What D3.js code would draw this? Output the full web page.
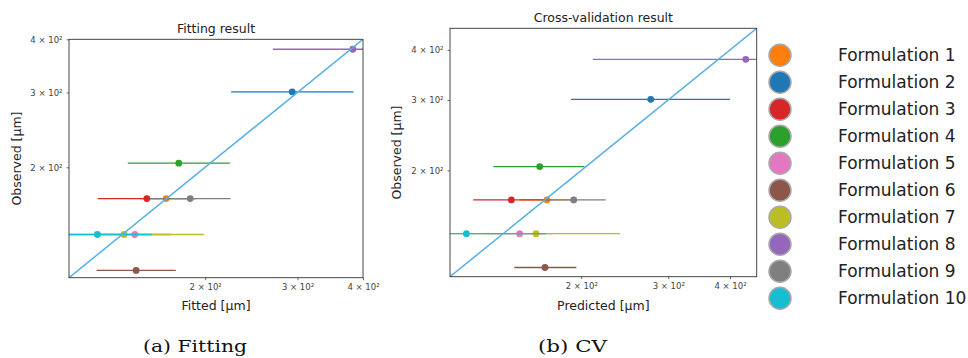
<!DOCTYPE html>
<html>
<head>
<meta charset="utf-8">
<script src="https://cdn.jsdelivr.net/npm/d3@7"></script>
<style>
  body { margin: 0; background: #fff; }
  svg { display: block; }
  .ttl { font-family: "DejaVu Sans", sans-serif; fill: #222; }
  .tick text { font-family: "DejaVu Sans", sans-serif; fill: #444; }
  .cap { font-family: "DejaVu Serif", "Liberation Serif", serif; fill: #111; }
</style>
</head>
<body>
<svg id="chart" width="968" height="358"></svg>
<script>
// formulations, in plotting order
const names = ['Formulation 1', 'Formulation 2', 'Formulation 3', 'Formulation 4', 'Formulation 5',
    'Formulation 6', 'Formulation 7', 'Formulation 8', 'Formulation 9', 'Formulation 10'];
const colors = ['#ff7f0e', '#1f77b4', '#d62728', '#2ca02c', '#e377c2',
    '#8c564b', '#bcbd22', '#9467bd', '#7f7f7f', '#17becf'];

// observed size [um], shared by both panels
const observed = [168.8, 301, 168.8, 204.5, 139, 114.4, 139, 379, 168.8, 139];

// fitting panel: fitted value and error bar ends
const fitted = [168.5, 293.1, 154.8, 178.1, 146.8, 147.7, 140.1, 382.5, 187.3, 124.6];
const fittedLow = [150, 224.2, 124.8, 142.4, 125, 124.2, 98.6, 269.2, 156.9, 98];
const fittedHigh = [190, 383.7, 192, 222.9, 172, 175.8, 199.1, 540, 223.6, 158.2];

// cross-validation panel
const predicted = [170.5, 276.5, 144.4, 164.8, 150.1, 168.9, 162, 430.5, 193.1, 117.1];
const predictedLow = [150, 190.7, 120.9, 132.8, 128, 146.4, 109.5, 211, 166.3, 80.9];
const predictedHigh = [195, 400, 172.4, 203, 175, 195.5, 239.6, 878, 224.2, 169.5];

const tickValues = [200, 300, 400];
const supTwo = '\u00b2';
const tickLabel = d => (d / 100) + ' \u00d7 10' + supTwo;

const svg = d3.select('#chart');

function panel(opts) {
    const x = d3.scaleLog().domain(opts.domain).range([opts.left, opts.right]);
    const y = d3.scaleLog().domain(opts.domain).range([opts.bottom, opts.top]);
    const g = svg.append('g');

    const clipId = 'clip-' + opts.id;
    g.append('clipPath').attr('id', clipId)
        .append('rect')
        .attr('x', opts.left).attr('y', opts.top)
        .attr('width', opts.right - opts.left)
        .attr('height', opts.bottom - opts.top);

    const plot = g.append('g').attr('clip-path', `url(#${clipId})`);

    // error bars then dots, one formulation at a time like matplotlib
    names.forEach((n, i) => {
        plot.append('line')
            .attr('x1', x(opts.low[i])).attr('x2', x(opts.high[i]))
            .attr('y1', y(observed[i])).attr('y2', y(observed[i]))
            .attr('stroke', colors[i]).attr('stroke-width', 1.3);
        plot.append('circle')
            .attr('cx', x(opts.value[i])).attr('cy', y(observed[i]))
            .attr('r', 3.4).attr('fill', colors[i]);
    });

    // identity line
    plot.append('line')
        .attr('x1', x(opts.domain[0])).attr('y1', y(opts.domain[0]))
        .attr('x2', x(opts.domain[1])).attr('y2', y(opts.domain[1]))
        .attr('stroke', '#56b0e4').attr('stroke-width', 1.5);

    // x axis
    const xa = g.append('g')
        .attr('transform', `translate(0,${opts.bottom})`)
        .call(d3.axisBottom(x).tickValues(tickValues).tickFormat(tickLabel).tickSize(2.5).tickPadding(4));
    // y axis
    const ya = g.append('g')
        .attr('transform', `translate(${opts.left},0)`)
        .call(d3.axisLeft(y).tickValues(tickValues).tickFormat(tickLabel).tickSize(2.5).tickPadding(4));
    [xa, ya].forEach(a => {
        a.select('.domain').remove();
        a.selectAll('.tick line').attr('stroke', '#444').attr('stroke-width', 0.8);
        a.selectAll('.tick text').attr('font-size', 8.5);
    });

    // frame
    g.append('rect')
        .attr('x', opts.left).attr('y', opts.top)
        .attr('width', opts.right - opts.left)
        .attr('height', opts.bottom - opts.top)
        .attr('fill', 'none').attr('stroke', '#333').attr('stroke-width', 0.9);

    const cx = (opts.left + opts.right) / 2;
    const cy = (opts.top + opts.bottom) / 2;
    g.append('text').attr('class', 'ttl')
        .attr('x', cx).attr('y', opts.top - 6)
        .attr('text-anchor', 'middle').attr('font-size', 12.5)
        .text(opts.title);
    g.append('text').attr('class', 'ttl')
        .attr('x', cx).attr('y', 310)
        .attr('text-anchor', 'middle').attr('font-size', 12.5)
        .text(opts.xlabel);
    g.append('text').attr('class', 'ttl')
        .attr('transform', `translate(${opts.ylabelX},${cy}) rotate(-90)`)
        .attr('text-anchor', 'middle').attr('font-size', 12.5)
        .text('Observed [\u03bcm]');
    g.append('text').attr('class', 'cap')
        .attr('x', opts.capX).attr('y', 352)
        .attr('text-anchor', 'middle').attr('font-size', 17)
        .attr('textLength', opts.capW).attr('lengthAdjust', 'spacingAndGlyphs')
        .text(opts.caption);
}

panel({
    id: 'fit', domain: [110, 400],
    left: 69, right: 363, top: 39.3, bottom: 277.7,
    value: fitted, low: fittedLow, high: fittedHigh,
    title: 'Fitting result', xlabel: 'Fitted [\u03bcm]', ylabelX: 21,
    caption: '(a) Fitting', capX: 195, capW: 104
});

panel({
    id: 'cv', domain: [108.5, 453],
    left: 450, right: 756.7, top: 28.3, bottom: 276.7,
    value: predicted, low: predictedLow, high: predictedHigh,
    title: 'Cross-validation result', xlabel: 'Predicted [\u03bcm]', ylabelX: 401,
    caption: '(b) CV', capX: 572.5, capW: 69
});

// legend
const legend = svg.append('g');
const ly = d3.scalePoint().domain(names).range([55.3, 298.3]);
legend.selectAll('circle').data(names).join('circle')
    .attr('cx', 780).attr('cy', d => ly(d)).attr('r', 11)
    .attr('fill', (d, i) => colors[i])
    .attr('stroke', '#aaa').attr('stroke-width', 1.5);
legend.selectAll('text').data(names).join('text')
    .attr('class', 'ttl')
    .attr('x', 838).attr('y', d => ly(d)).attr('dy', '0.35em')
    .attr('font-size', 17)
    .text(d => d);
</script>
</body>
</html>
